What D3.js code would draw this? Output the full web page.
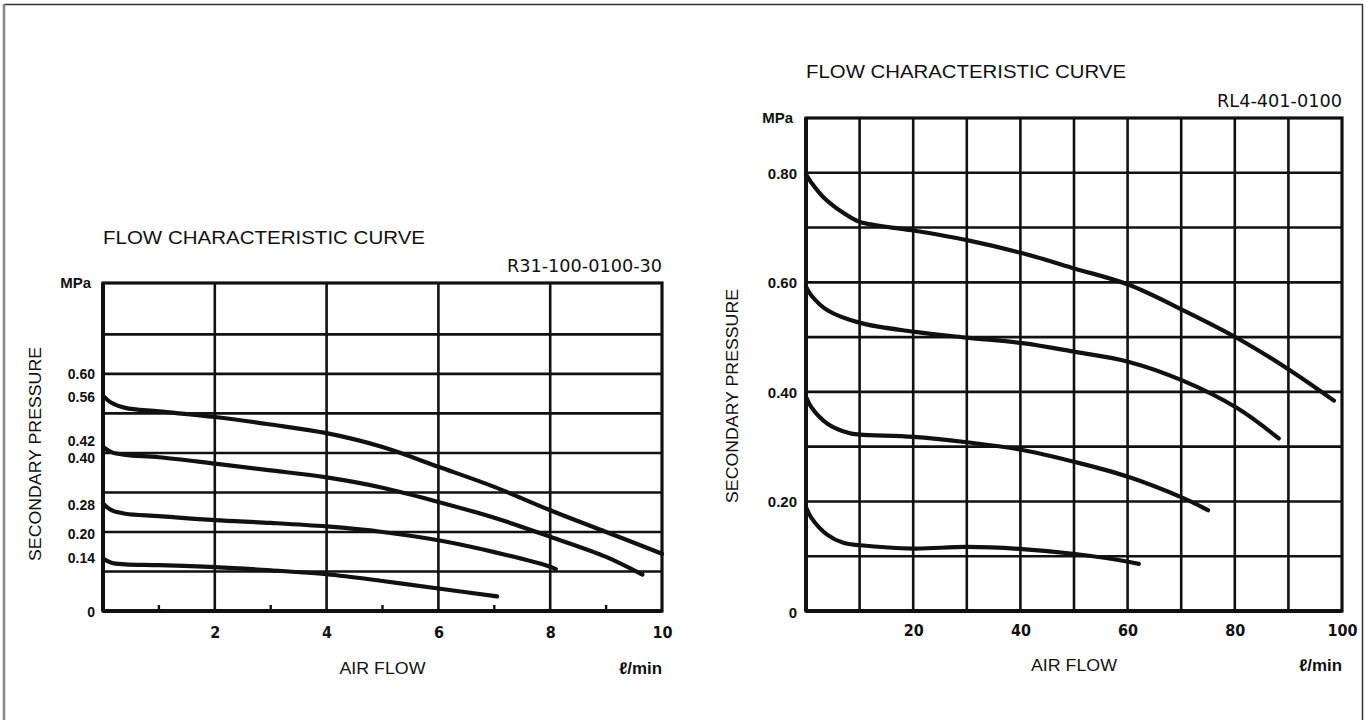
<!DOCTYPE html>
<html><head><meta charset="utf-8">
<script src="https://cdn.jsdelivr.net/npm/d3@7"></script>
<style>
html,body{margin:0;padding:0;background:#fff;}
svg{display:block;}
text{fill:#111;}
</style></head>
<body>
<svg id="c" width="1365" height="720"></svg>
<script>
// ---------- DATA ----------
const titleText = "FLOW CHARACTERISTIC CURVE";
const leftModel = "R31-100-0100-30";
const rightModel = "RL4-401-0100";
const yAxisLabel = "SECONDARY PRESSURE";
const xAxisLabel = "AIR FLOW";
const unitY = "MPa";
const unitX = "ℓ/min";

// Left chart (R31-100-0100-30): flow in l/min, pressure in MPa
const leftXTicks = [2, 4, 6, 8, 10];
const leftXMinor = [1, 3, 5, 7, 9];
const leftXGrid = [2, 4, 6, 8];
const leftYGrid = [0.1, 0.2, 0.3, 0.4, 0.5, 0.6, 0.7];
const leftYTickLabels = ["0", "0.14", "0.20", "0.28", "0.40", "0.42", "0.56", "0.60"];
const leftCurve1 = [[0,0.545],[0.15,0.527],[0.4,0.514],[1,0.505],[2,0.491],[3,0.472],[4,0.45],[5,0.415],[6,0.365],[7,0.314],[8,0.255],[9,0.2],[10,0.145]];
const leftCurve2 = [[0,0.415],[0.15,0.402],[0.4,0.395],[1,0.389],[2,0.373],[3,0.356],[4,0.338],[5,0.312],[6,0.276],[7,0.236],[8,0.188],[9,0.137],[9.65,0.092]];
const leftCurve3 = [[0,0.272],[0.15,0.255],[0.4,0.246],[1,0.24],[2,0.23],[3,0.223],[4,0.214],[5,0.2],[6,0.179],[7,0.149],[8,0.112],[8.1,0.106]];
const leftCurve4 = [[0,0.133],[0.15,0.122],[0.4,0.118],[1,0.116],[2,0.111],[3,0.103],[4,0.093],[5,0.076],[6,0.057],[7.05,0.037]];

// Right chart (RL4-401-0100)
const rightXTicks = [20, 40, 60, 80, 100];
const rightXGrid = [10, 20, 30, 40, 50, 60, 70, 80, 90];
const rightYGrid = [0.1, 0.2, 0.3, 0.4, 0.5, 0.6, 0.7, 0.8];
const rightYTickLabels = ["0", "0.20", "0.40", "0.60", "0.80"];
const rightCurve1 = [[0,0.797],[1,0.782],[3.2,0.756],[7.1,0.726],[10.1,0.71],[19.8,0.695],[30,0.677],[40.4,0.653],[50.2,0.625],[60.1,0.596],[70.4,0.549],[80.5,0.498],[90.2,0.44],[98.5,0.384]];
const rightCurve2 = [[0,0.592],[1,0.576],[4,0.549],[10.1,0.526],[20,0.51],[30,0.499],[40.4,0.489],[50.2,0.473],[60.1,0.455],[70.4,0.42],[80.5,0.37],[88.2,0.315]];
const rightCurve3 = [[0,0.391],[1,0.372],[4,0.342],[8,0.325],[10.1,0.322],[20,0.318],[30,0.308],[40.4,0.294],[50.2,0.272],[60.1,0.245],[70.4,0.206],[75,0.184]];
const rightCurve4 = [[0,0.19],[1,0.17],[4,0.139],[7.1,0.124],[10.1,0.12],[20,0.114],[30,0.117],[40.4,0.113],[50.2,0.104],[60.1,0.09],[62.1,0.086]];

// ---------- DRAW ----------
const svg = d3.select("#c");
const ink = "#111";
const sans = "'Liberation Sans', Arial, Helvetica, sans-serif";
const cond = "'DejaVu Sans Condensed', 'Liberation Sans Narrow', 'Liberation Sans', sans-serif";

// page frame
svg.append("line").attr("x1",4).attr("x2",1362).attr("y1",4.5).attr("y2",4.5).attr("stroke","#333").attr("stroke-width",1.5);
svg.append("line").attr("x1",4).attr("x2",4).attr("y1",4).attr("y2",720).attr("stroke","#888").attr("stroke-width",2.5);
svg.append("line").attr("x1",1362.5).attr("x2",1362.5).attr("y1",4).attr("y2",720).attr("stroke","#333").attr("stroke-width",1.5);

function chart(cfg){
  const g = svg.append("g");
  const x = d3.scaleLinear().domain(cfg.xDomain).range([cfg.left, cfg.right]);
  const y = d3.scaleLinear().domain(cfg.yDomain).range([cfg.bottom, cfg.top]);

  // grid
  g.selectAll(".vg").data(cfg.xGrid).join("line")
    .attr("x1",d=>x(d)).attr("x2",d=>x(d)).attr("y1",y(cfg.yDomain[0])).attr("y2",y(cfg.yDomain[1]))
    .attr("stroke",ink).attr("stroke-width",2.6);
  g.selectAll(".hg").data(cfg.yGrid).join("line")
    .attr("y1",d=>y(d)).attr("y2",d=>y(d)).attr("x1",x(cfg.xDomain[0])).attr("x2",x(cfg.xDomain[1]))
    .attr("stroke",ink).attr("stroke-width",2.6);
  // frame
  g.append("rect").attr("x",x(cfg.xDomain[0])).attr("y",y(cfg.yDomain[1]))
    .attr("width",x(cfg.xDomain[1])-x(cfg.xDomain[0])).attr("height",y(cfg.yDomain[0])-y(cfg.yDomain[1]))
    .attr("fill","none").attr("stroke",ink).attr("stroke-width",3.2);
  g.append("line").attr("x1",x(cfg.xDomain[0])).attr("x2",x(cfg.xDomain[1])).attr("y1",y(0)).attr("y2",y(0))
    .attr("stroke",ink).attr("stroke-width",3.8);
  g.append("line").attr("x1",x(0)).attr("x2",x(0)).attr("y1",y(0)).attr("y2",y(cfg.yDomain[1]))
    .attr("stroke",ink).attr("stroke-width",4);

  // minor ticks
  if (cfg.xMinor) {
    g.selectAll(".mt").data(cfg.xMinor).join("line")
      .attr("x1",d=>x(d)).attr("x2",d=>x(d)).attr("y1",y(0)).attr("y2",y(0)-6)
      .attr("stroke",ink).attr("stroke-width",2.4);
  }

  // curves
  const line = d3.line().x(d=>x(d[0])).y(d=>y(d[1])).curve(d3.curveCatmullRom.alpha(0.5));
  g.selectAll(".cv").data(cfg.curves).join("path")
    .attr("d",line).attr("fill","none").attr("stroke",ink).attr("stroke-width",4.2)
    .attr("stroke-linecap","round").attr("stroke-linejoin","round");

  // x tick labels via axis
  const xAxis = d3.axisBottom(x).tickValues(cfg.xTicks).tickSize(0).tickPadding(0).tickFormat(d3.format("d"));
  const xa = g.append("g").attr("transform",`translate(0,${cfg.xLabelY})`).call(xAxis);
  xa.select(".domain").remove();
  xa.selectAll("text").attr("font-family",cond).attr("font-size",16).attr("font-weight","bold")
    .attr("fill",ink).attr("dy","0.35em").attr("y",0);

  // y tick labels via axis
  const yAxis = d3.axisLeft(y).tickValues(cfg.yTickLabels.map(Number)).tickSize(0).tickPadding(0)
    .tickFormat((d,i)=>cfg.yTickLabels[i]);
  const ya = g.append("g").attr("transform",`translate(${cfg.yLabelX},0)`).call(yAxis);
  ya.select(".domain").remove();
  ya.selectAll("text").attr("font-family",sans).attr("font-size",cfg.yFont).attr("font-weight","bold")
    .attr("fill",ink).attr("dy",(d)=> (0.35*cfg.yFont + (cfg.nudge[d]||0)) + "px").attr("x",0);

  // unit labels
  g.append("text").attr("x",cfg.yLabelX-4).attr("y",y(cfg.yDomain[1])).attr("dy","0.35em")
    .attr("text-anchor","end").attr("font-family",sans).attr("font-size",15).attr("font-weight","bold").text(unitY);
  g.append("text").attr("x",x(cfg.xDomain[1])).attr("y",cfg.axisTitleY).attr("dy","0.35em")
    .attr("text-anchor","end").attr("font-family",sans).attr("font-size",17).attr("font-weight","bold")
    .attr("textLength",43).attr("lengthAdjust","spacingAndGlyphs").text(unitX);

  // axis titles
  g.append("text").attr("x",(x(cfg.xDomain[0])+x(cfg.xDomain[1]))/2).attr("y",cfg.axisTitleY).attr("dy","0.35em")
    .attr("text-anchor","middle").attr("font-family",sans).attr("font-size",17)
    .attr("textLength",86).attr("lengthAdjust","spacingAndGlyphs").text(xAxisLabel);
  g.append("text").attr("transform",`translate(${cfg.yTitleX},${cfg.yTitleY}) rotate(-90)`).attr("dy","0.35em")
    .attr("text-anchor","middle").attr("font-family",sans).attr("font-size",17)
    .attr("textLength",214).attr("lengthAdjust","spacingAndGlyphs").text(yAxisLabel);

  // titles
  g.append("text").attr("x",cfg.left).attr("y",cfg.titleY).attr("dy","0.35em")
    .attr("font-family",sans).attr("font-size",18)
    .attr("textLength",cfg.titleLen).attr("lengthAdjust","spacingAndGlyphs").text(titleText);
  g.append("text").attr("x",cfg.right).attr("y",cfg.modelY).attr("dy","0.35em").attr("text-anchor","end")
    .attr("font-family",cond).attr("font-size",18)
    .attr("textLength",cfg.modelLen).attr("lengthAdjust","spacingAndGlyphs").text(cfg.model);
}

chart({
  xDomain:[0,10], yDomain:[0,0.83], left:103, right:662, top:283, bottom:611,
  xGrid:leftXGrid, yGrid:leftYGrid, xMinor:leftXMinor, xTicks:leftXTicks,
  yTickLabels:leftYTickLabels, yFont:14, nudge:{0.56:7, 0.42:-4, 0.40:5, 0.28:4, 0.20:2, 0.14:2, 0:1},
  curves:[leftCurve1,leftCurve2,leftCurve3,leftCurve4],
  xLabelY:632, yLabelX:95, axisTitleY:668, yTitleX:35, yTitleY:454,
  titleY:238, titleLen:322, modelY:266, modelLen:155, model:leftModel
});
chart({
  xDomain:[0,100], yDomain:[0,0.9], left:806, right:1342, top:118, bottom:611,
  xGrid:rightXGrid, yGrid:rightYGrid, xMinor:null, xTicks:rightXTicks,
  yTickLabels:rightYTickLabels, yFont:15, nudge:{0:1},
  curves:[rightCurve1,rightCurve2,rightCurve3,rightCurve4],
  xLabelY:630, yLabelX:797, axisTitleY:665, yTitleX:732, yTitleY:396,
  titleY:72, titleLen:320, modelY:101, modelLen:125, model:rightModel
});
</script>
</body></html>
